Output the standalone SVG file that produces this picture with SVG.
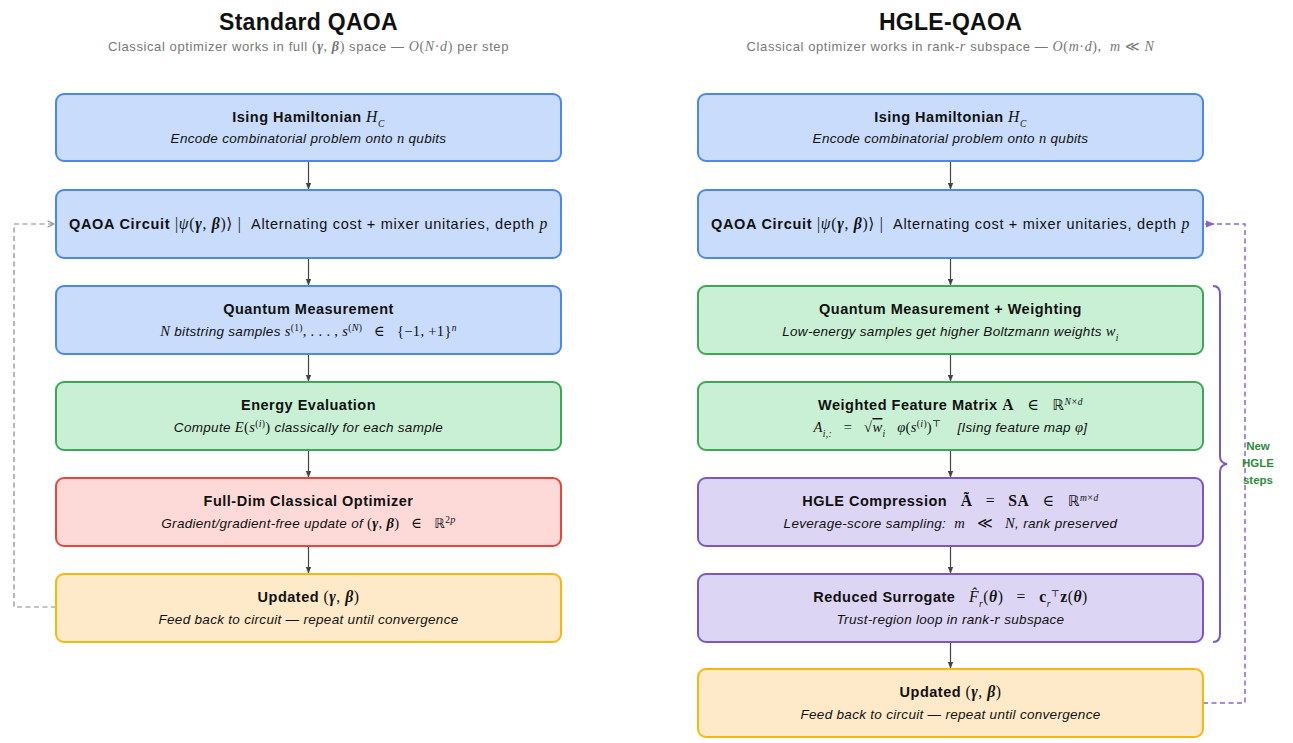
<svg xmlns="http://www.w3.org/2000/svg" width="1293" height="743" viewBox="0 0 1293 743">
<defs>
<style>
.t{font-family:"Liberation Sans",Arial,sans-serif;fill:#111}
.h{font-size:23px;font-weight:bold;letter-spacing:0.3px}
.sub{font-size:13px;fill:#777;letter-spacing:0.6px}
.bt{font-size:14.5px;font-weight:bold;letter-spacing:0.5px}
.bs{font-size:13.5px;font-style:italic;letter-spacing:0.3px}
.ql{font-size:14.5px;letter-spacing:0.7px}
.m{font-family:"Liberation Serif","DejaVu Serif",serif;font-style:italic;font-weight:normal;font-size:1.08em}
.mr{font-family:"Liberation Serif","DejaVu Serif",serif;font-style:normal;font-weight:normal;font-size:1.08em}
.mb{font-family:"Liberation Serif","DejaVu Serif",serif;font-style:normal;font-weight:bold;font-size:1.08em}
.mbi{font-family:"Liberation Serif","DejaVu Serif",serif;font-style:italic;font-weight:bold;font-size:1.08em}
.ds{font-family:"DejaVu Sans",sans-serif;font-style:normal;font-weight:normal}
.sup{font-size:9.5px}
.blue{fill:#c9dcfb;stroke:#4a88ee;stroke-width:2}
.green{fill:#c9f0d5;stroke:#3da756;stroke-width:2}
.red{fill:#fddad8;stroke:#e8453c;stroke-width:2}
.yellow{fill:#fee9c8;stroke:#f6b80c;stroke-width:2}
.purple{fill:#ddd5f4;stroke:#7d55c7;stroke-width:2}
.arr{stroke:#444;stroke-width:1.2;fill:none;marker-end:url(#ah)}
.lbl{font-size:11.5px;font-weight:bold;fill:#2e8b3a}
</style>
<marker id="ah" viewBox="0 0 10 10" refX="9" refY="5" markerWidth="7" markerHeight="7" orient="auto" markerUnits="userSpaceOnUse">
<path d="M0,1 L10,5 L0,9 z" fill="#444"/>
</marker>
<marker id="ahg" viewBox="0 0 10 10" refX="9" refY="5" markerWidth="8" markerHeight="8" orient="auto" markerUnits="userSpaceOnUse">
<path d="M1,1 L9,5 L1,9" fill="none" stroke="#888" stroke-width="1.3"/>
</marker>
<marker id="ahp" viewBox="0 0 10 10" refX="1" refY="5" markerWidth="9" markerHeight="9" orient="auto" markerUnits="userSpaceOnUse">
<path d="M0,5 L10,1 L10,9 z" fill="#8a63d2"/>
</marker>
</defs>
<rect width="1293" height="743" fill="#fff"/>

<!-- headers -->
<text class="t h" x="308.5" y="30" text-anchor="middle">Standard QAOA</text>
<text class="t sub" x="308.5" y="51" text-anchor="middle">Classical optimizer works in full <tspan class="mr">(</tspan><tspan class="mbi">γ</tspan><tspan class="mr">, </tspan><tspan class="mbi">β</tspan><tspan class="mr">)</tspan> space — <tspan class="m">O</tspan><tspan class="mr">(</tspan><tspan class="m">N</tspan><tspan class="mr">·</tspan><tspan class="m">d</tspan><tspan class="mr">)</tspan> per step</text>
<text class="t h" x="950.5" y="30" text-anchor="middle">HGLE-QAOA</text>
<text class="t sub" x="950.5" y="51" text-anchor="middle">Classical optimizer works in rank-<tspan class="m">r</tspan> subspace — <tspan class="m">O</tspan><tspan class="mr">(</tspan><tspan class="m">m</tspan><tspan class="mr">·</tspan><tspan class="m">d</tspan><tspan class="mr">),&#160;&#160;</tspan><tspan class="m">m</tspan><tspan class="mr"> ≪ </tspan><tspan class="m">N</tspan></text>

<!-- connectors -->
<g id="connectors">
<line class="arr" x1="308.5" y1="162" x2="308.5" y2="189"/>
<line class="arr" x1="308.5" y1="259" x2="308.5" y2="285"/>
<line class="arr" x1="308.5" y1="355" x2="308.5" y2="381"/>
<line class="arr" x1="308.5" y1="451" x2="308.5" y2="477"/>
<line class="arr" x1="308.5" y1="547" x2="308.5" y2="573"/>
<polyline points="56,607 14,607 14,224 54,224" fill="none" stroke="#888" stroke-width="1.2" stroke-dasharray="5,3.5" marker-end="url(#ahg)"/>
<line class="arr" x1="950.5" y1="162" x2="950.5" y2="189"/>
<line class="arr" x1="950.5" y1="259" x2="950.5" y2="285"/>
<line class="arr" x1="950.5" y1="355" x2="950.5" y2="381"/>
<line class="arr" x1="950.5" y1="451" x2="950.5" y2="477"/>
<line class="arr" x1="950.5" y1="547" x2="950.5" y2="573"/>
<line class="arr" x1="950.5" y1="643" x2="950.5" y2="668"/>
<polyline points="1203,703 1245,703 1245,224 1214,224" fill="none" stroke="#8a63d2" stroke-width="1.5" stroke-dasharray="5,3.5"/>
<line x1="1214" y1="224" x2="1205" y2="224" stroke="#8a63d2" stroke-width="1.5" marker-start="url(#ahp)"/>
<path d="M1213,286 Q1220,286 1220,294 L1220,456 Q1220,463 1227,464 Q1220,465 1220,472 L1220,634 Q1220,642 1213,642" fill="none" stroke="#7d55c7" stroke-width="2"/>
<text class="t lbl" x="1258" y="450" text-anchor="middle">New</text>
<text class="t lbl" x="1258" y="467" text-anchor="middle">HGLE</text>
<text class="t lbl" x="1258" y="484" text-anchor="middle">steps</text>
</g>

<!-- LEFT -->
<g id="L1">
<rect class="blue" x="56" y="94" width="505" height="67" rx="8"/>
<text class="t bt" x="308.5" y="122" text-anchor="middle">Ising Hamiltonian <tspan class="m">H</tspan><tspan class="m sup" baseline-shift="sub">C</tspan></text>
<text class="t bs" x="308.5" y="143" text-anchor="middle">Encode combinatorial problem onto <tspan class="m">n</tspan> qubits</text>
</g>
<g id="L2">
<rect class="blue" x="56" y="190" width="505" height="68" rx="8"/>
<text class="t ql" x="308.5" y="229" text-anchor="middle"><tspan font-weight="bold">QAOA Circuit</tspan> <tspan class="mr">|</tspan><tspan class="m">ψ</tspan><tspan class="mr">(</tspan><tspan class="mbi">γ</tspan><tspan class="mr">, </tspan><tspan class="mbi">β</tspan><tspan class="mr">)⟩ |</tspan>&#160; Alternating cost + mixer unitaries, depth <tspan class="m">p</tspan></text>
</g>
<g id="L3">
<rect class="blue" x="56" y="286" width="505" height="68" rx="8"/>
<text class="t bt" x="308.5" y="314" text-anchor="middle">Quantum Measurement</text>
<text class="t bs" x="308.5" y="336" text-anchor="middle"><tspan class="m">N</tspan> bitstring samples <tspan class="m">s</tspan><tspan class="mr sup" baseline-shift="super">(1)</tspan><tspan class="mr">, . . . , </tspan><tspan class="m">s</tspan><tspan class="mr sup" baseline-shift="super">(<tspan class="m">N</tspan>)</tspan><tspan class="mr">&#160;&#160; ∈ &#160;&#160;{−1, +1}</tspan><tspan class="m sup" baseline-shift="super">n</tspan></text>
</g>
<g id="L4">
<rect class="green" x="56" y="382" width="505" height="68" rx="8"/>
<text class="t bt" x="308.5" y="410" text-anchor="middle">Energy Evaluation</text>
<text class="t bs" x="308.5" y="432" text-anchor="middle">Compute <tspan class="m">E</tspan><tspan class="mr">(</tspan><tspan class="m">s</tspan><tspan class="mr sup" baseline-shift="super">(<tspan class="m">i</tspan>)</tspan><tspan class="mr">)</tspan> classically for each sample</text>
</g>
<g id="L5">
<rect class="red" x="56" y="478" width="505" height="68" rx="8"/>
<text class="t bt" x="308.5" y="506" text-anchor="middle">Full-Dim Classical Optimizer</text>
<text class="t bs" x="308.5" y="528" text-anchor="middle">Gradient/gradient-free update of <tspan class="mr">(</tspan><tspan class="mbi">γ</tspan><tspan class="mr">, </tspan><tspan class="mbi">β</tspan><tspan class="mr">)&#160;&#160; ∈ &#160;&#160;</tspan><tspan class="ds">ℝ</tspan><tspan class="mr sup" baseline-shift="super">2<tspan class="m">p</tspan></tspan></text>
</g>
<g id="L6">
<rect class="yellow" x="56" y="574" width="505" height="68" rx="8"/>
<text class="t bt" x="308.5" y="602" text-anchor="middle">Updated <tspan class="mr">(</tspan><tspan class="mbi">γ</tspan><tspan class="mr">, </tspan><tspan class="mbi">β</tspan><tspan class="mr">)</tspan></text>
<text class="t bs" x="308.5" y="624" text-anchor="middle">Feed back to circuit — repeat until convergence</text>
</g>

<!-- RIGHT -->
<g id="R1">
<rect class="blue" x="698" y="94" width="505" height="67" rx="8"/>
<text class="t bt" x="950.5" y="122" text-anchor="middle">Ising Hamiltonian <tspan class="m">H</tspan><tspan class="m sup" baseline-shift="sub">C</tspan></text>
<text class="t bs" x="950.5" y="143" text-anchor="middle">Encode combinatorial problem onto <tspan class="m">n</tspan> qubits</text>
</g>
<g id="R2">
<rect class="blue" x="698" y="190" width="505" height="68" rx="8"/>
<text class="t ql" x="950.5" y="229" text-anchor="middle"><tspan font-weight="bold">QAOA Circuit</tspan> <tspan class="mr">|</tspan><tspan class="m">ψ</tspan><tspan class="mr">(</tspan><tspan class="mbi">γ</tspan><tspan class="mr">, </tspan><tspan class="mbi">β</tspan><tspan class="mr">)⟩ |</tspan>&#160; Alternating cost + mixer unitaries, depth <tspan class="m">p</tspan></text>
</g>
<g id="R3">
<rect class="green" x="698" y="286" width="505" height="68" rx="8"/>
<text class="t bt" x="950.5" y="314" text-anchor="middle">Quantum Measurement + Weighting</text>
<text class="t bs" x="950.5" y="336" text-anchor="middle">Low-energy samples get higher Boltzmann weights <tspan class="m">w</tspan><tspan class="m sup" baseline-shift="sub">i</tspan></text>
</g>
<g id="R4">
<rect class="green" x="698" y="382" width="505" height="68" rx="8"/>
<text class="t bt" x="950.5" y="410" text-anchor="middle">Weighted Feature Matrix <tspan class="mb">A</tspan><tspan class="mr">&#160;&#160; ∈ &#160;&#160;</tspan><tspan class="ds">ℝ</tspan><tspan class="m sup" baseline-shift="super">N<tspan class="mr">×</tspan>d</tspan></text>
<text class="t bs" x="950.5" y="432" text-anchor="middle"><tspan class="m">A</tspan><tspan class="m sup" baseline-shift="sub">i,:</tspan><tspan class="mr">&#160;&#160; = &#160;&#160;√</tspan><tspan class="m" text-decoration="overline">w</tspan><tspan class="m sup" baseline-shift="sub">i</tspan><tspan class="mr">&#160;&#160; </tspan><tspan class="m">φ</tspan><tspan class="mr">(</tspan><tspan class="m">s</tspan><tspan class="mr sup" baseline-shift="super">(<tspan class="m">i</tspan>)</tspan><tspan class="mr">)</tspan><tspan class="mr sup" baseline-shift="super">⊤</tspan>&#160;&#160;&#160; [Ising feature map <tspan class="m">φ</tspan>]</text>
</g>
<g id="R5">
<rect class="purple" x="698" y="478" width="505" height="68" rx="8"/>
<text class="t bt" x="950.5" y="506" text-anchor="middle">HGLE Compression&#160;&#160; <tspan class="mb">Ã</tspan><tspan class="mr">&#160;&#160; = &#160;&#160;</tspan><tspan class="mb">SA</tspan><tspan class="mr">&#160;&#160; ∈ &#160;&#160;</tspan><tspan class="ds">ℝ</tspan><tspan class="m sup" baseline-shift="super">m<tspan class="mr">×</tspan>d</tspan></text>
<text class="t bs" x="950.5" y="528" text-anchor="middle">Leverage-score sampling:&#160; <tspan class="m">m</tspan><tspan class="mr">&#160;&#160; ≪ &#160;&#160;</tspan><tspan class="m">N</tspan>, rank preserved</text>
</g>
<g id="R6">
<rect class="purple" x="698" y="574" width="505" height="68" rx="8"/>
<text class="t bt" x="950.5" y="602" text-anchor="middle">Reduced Surrogate&#160;&#160; <tspan class="m">F̂</tspan><tspan class="m sup" baseline-shift="sub">r</tspan><tspan class="mr">(</tspan><tspan class="mbi">θ</tspan><tspan class="mr">)&#160;&#160; = &#160;&#160;</tspan><tspan class="mb">c</tspan><tspan class="m sup" baseline-shift="sub">r</tspan><tspan class="mr sup" baseline-shift="super">⊤</tspan><tspan class="mb">z</tspan><tspan class="mr">(</tspan><tspan class="mbi">θ</tspan><tspan class="mr">)</tspan></text>
<text class="t bs" x="950.5" y="624" text-anchor="middle">Trust-region loop in rank-<tspan class="m">r</tspan> subspace</text>
</g>
<g id="R7">
<rect class="yellow" x="698" y="669" width="505" height="68" rx="8"/>
<text class="t bt" x="950.5" y="697" text-anchor="middle">Updated <tspan class="mr">(</tspan><tspan class="mbi">γ</tspan><tspan class="mr">, </tspan><tspan class="mbi">β</tspan><tspan class="mr">)</tspan></text>
<text class="t bs" x="950.5" y="719" text-anchor="middle">Feed back to circuit — repeat until convergence</text>
</g>
</svg>
